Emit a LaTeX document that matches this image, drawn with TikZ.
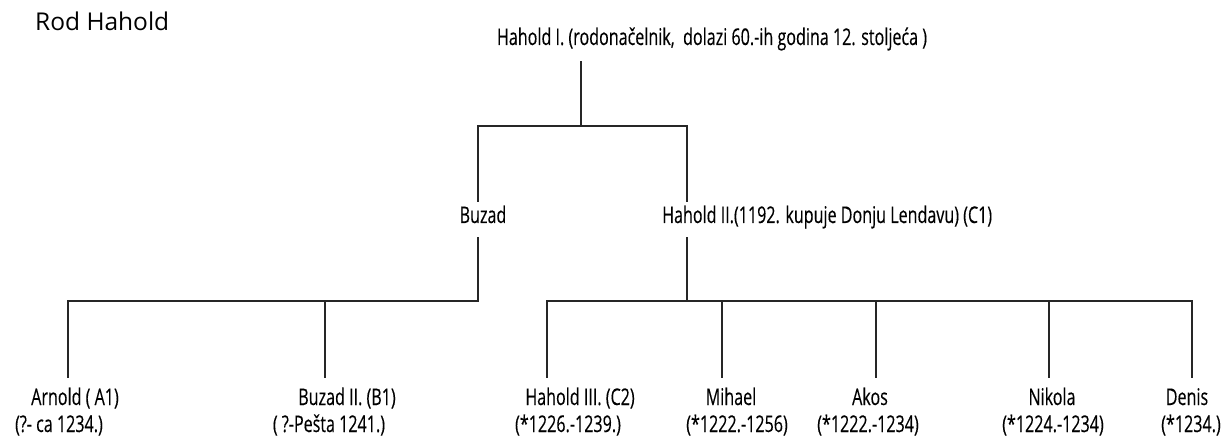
\documentclass[tikz,border=0pt]{standalone}
\usepackage{fontspec}
\usepackage{graphicx}
\setmainfont{Open Sans}
\newfontfamily\lblfont[FakeBold=0.3]{Open Sans}
\newlength\topwidth
\newcommand\lbfont{\lblfont\fontsize{23}{25}\selectfont}
\settowidth\topwidth{\lbfont Hahold I. (rodonačelnik,~ dolazi 60.-ih godina 12. stoljeća )}
\pgfmathsetmacro\lbxs{430/\topwidth}
\newcommand\lb[1]{\scalebox{\lbxs}[1]{#1}}
\begin{document}
\begin{tikzpicture}[x=1pt,y=-1pt,
  conn/.style={line width=1.5pt, draw=black!85},
  lbl/.style={font=\lbfont, inner sep=0pt, anchor=base, text depth=5pt},
  topname/.style={lbl, text height=18pt, text depth=16pt},
  midname/.style={lbl, text height=21pt, text depth=14pt},
  botname/.style={lbl, text height=27pt},
  datelbl/.style={lbl, text height=18pt}]
\useasboundingbox (0,0) rectangle (1224,438);
\node[font=\fontsize{24.5}{27}\selectfont, anchor=base west, inner sep=0pt] (title) at (35,31) {Rod Hahold};

\node[topname] (h1) at (712,45) {\lb{Hahold I. (rodonačelnik,~ dolazi 60.-ih godina 12. stoljeća )}};
\node[midname] (buzad) at (483,223) {\lb{Buzad}};
\node[midname, anchor=base west] (h2) at (662,223) {\lb{Hahold II.(1192. kupuje Donju Lendavu) (C1)}};

\node[botname] (arnold) at (75,405) {\lb{Arnold ( A1)}};
\node[datelbl] (arnoldd) at (59,432) {\lb{(?- ca 1234.)}};
\node[botname] (buzad2) at (347,405) {\lb{Buzad II. (B1)}};
\node[datelbl] (buzad2d) at (329,432) {\lb{( ?-Pešta 1241.)}};
\node[botname] (h3) at (580,405) {\lb{Hahold III. (C2)}};
\node[datelbl] (h3d) at (568,432) {\lb{(*1226.-1239.)}};
\node[botname] (mihael) at (731,405) {\lb{Mihael}};
\node[datelbl] (mihaeld) at (737,432) {\lb{(*1222.-1256)}};
\node[botname] (akos) at (870,405) {\lb{Akos}};
\node[datelbl] (akosd) at (868,432) {\lb{(*1222.-1234)}};
\node[botname] (nikola) at (1052,405) {\lb{Nikola}};
\node[datelbl] (nikolad) at (1053,432) {\lb{(*1224.-1234)}};
\node[botname] (denis) at (1187,405) {\lb{Denis}};
\node[datelbl] (denisd) at (1191,432) {\lb{(*1234.)}};

% junctions
\coordinate (j0) at (581,126);
\coordinate (jb) at (478,126);
\coordinate (jh) at (687,126);
\coordinate (kb) at (478,301);
\coordinate (ka) at (68,301);
\coordinate (kb2) at (325,301);
\coordinate (kh) at (687,301);
\coordinate (kh3) at (547,301);
\coordinate (km) at (722,301);
\coordinate (kak) at (876,301);
\coordinate (kn) at (1049,301);
\coordinate (kd) at (1192,301);

\draw[conn] (h1.south -| j0) -- (j0);
\draw[conn] (jb |- buzad.north) -- (jb) -- (jh) -- (jh |- h2.north);
\draw[conn] (buzad.south -| kb) -- (kb) -- (ka) -- (ka |- arnold.north);
\draw[conn] (kb2) -- (kb2 |- buzad2.north);
\draw[conn] (h2.south -| kh) -- (kh);
\draw[conn] (kh3 |- h3.north) -- (kh3) -- (kd) -- (kd |- denis.north);
\draw[conn] (km) -- (km |- mihael.north);
\draw[conn] (kak) -- (kak |- akos.north);
\draw[conn] (kn) -- (kn |- nikola.north);
\end{tikzpicture}
\end{document}
